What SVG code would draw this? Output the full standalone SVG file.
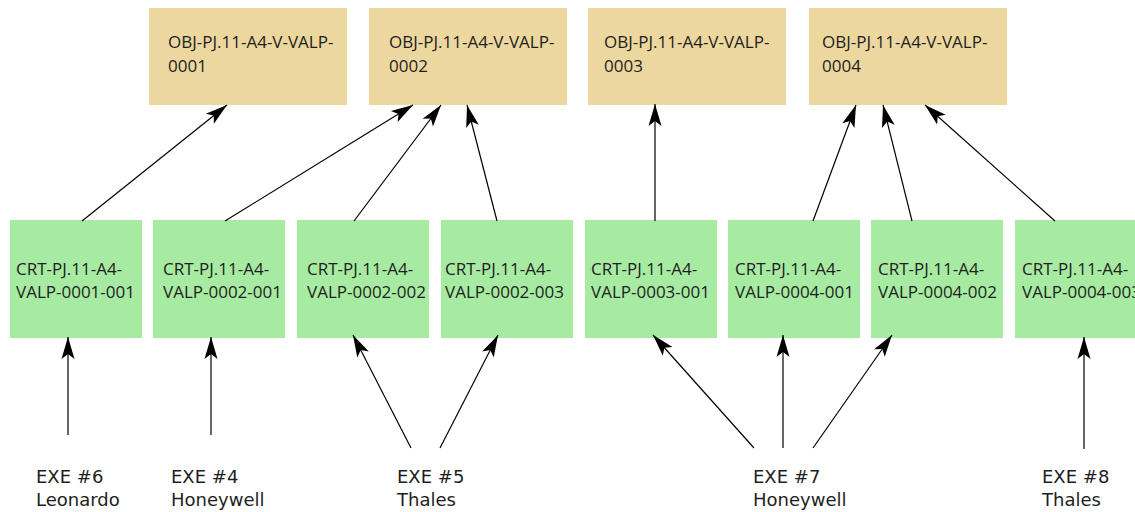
<svg xmlns="http://www.w3.org/2000/svg" width="1135" height="512" viewBox="0 0 1135 512">
<style>
.obj{fill:#ECD89F}
.crt{fill:#A7EBA2}
.bt{font-family:"Open Sans","Noto Sans",sans-serif;font-size:17px;fill:#1e1e1e}
.lb{font-family:"DejaVu Sans",Verdana,sans-serif;font-size:18px;fill:#1e1e1e}
.c{stroke:#000;stroke-width:1.2;fill:none;marker-end:url(#ah)}
</style>
<defs>
<marker id="ah" markerUnits="userSpaceOnUse" markerWidth="26" markerHeight="16" viewBox="-24 -8 26 16" refX="0" refY="0" orient="auto">
<path d="M0,0 L-22,-6.5 L-17,0 L-22,6.5 Z" fill="#000"/>
</marker>
</defs>
<rect width="1135" height="512" fill="#fff"/>
<g id="obj1"><rect class="obj" x="149" y="8" width="198" height="97"/><text class="bt" x="168" y="48">OBJ-PJ.11-A4-V-VALP-</text><text class="bt" x="168" y="71.5">0001</text></g>
<g id="obj2"><rect class="obj" x="369" y="8" width="198" height="97"/><text class="bt" x="389" y="48">OBJ-PJ.11-A4-V-VALP-</text><text class="bt" x="389" y="71.5">0002</text></g>
<g id="obj3"><rect class="obj" x="588" y="8" width="198" height="97"/><text class="bt" x="604" y="48">OBJ-PJ.11-A4-V-VALP-</text><text class="bt" x="604" y="71.5">0003</text></g>
<g id="obj4"><rect class="obj" x="809" y="8" width="198" height="97"/><text class="bt" x="822" y="48">OBJ-PJ.11-A4-V-VALP-</text><text class="bt" x="822" y="71.5">0004</text></g>

<g id="crt1"><rect class="crt" x="10" y="220" width="132" height="118"/><text class="bt" x="16" y="275">CRT-PJ.11-A4-</text><text class="bt" x="16" y="298">VALP-0001-001</text></g>
<g id="crt2"><rect class="crt" x="153" y="220" width="132" height="118"/><text class="bt" x="163" y="275">CRT-PJ.11-A4-</text><text class="bt" x="163" y="298">VALP-0002-001</text></g>
<g id="crt3"><rect class="crt" x="297" y="220" width="132" height="118"/><text class="bt" x="307" y="275">CRT-PJ.11-A4-</text><text class="bt" x="307" y="298">VALP-0002-002</text></g>
<g id="crt4"><rect class="crt" x="441" y="220" width="132" height="118"/><text class="bt" x="445" y="275">CRT-PJ.11-A4-</text><text class="bt" x="445" y="298">VALP-0002-003</text></g>
<g id="crt5"><rect class="crt" x="585" y="220" width="132" height="118"/><text class="bt" x="591" y="275">CRT-PJ.11-A4-</text><text class="bt" x="591" y="298">VALP-0003-001</text></g>
<g id="crt6"><rect class="crt" x="728" y="220" width="132" height="118"/><text class="bt" x="735" y="275">CRT-PJ.11-A4-</text><text class="bt" x="735" y="298">VALP-0004-001</text></g>
<g id="crt7"><rect class="crt" x="871" y="220" width="132" height="118"/><text class="bt" x="878" y="275">CRT-PJ.11-A4-</text><text class="bt" x="878" y="298">VALP-0004-002</text></g>
<g id="crt8"><rect class="crt" x="1015" y="220" width="132" height="118"/><text class="bt" x="1022" y="275">CRT-PJ.11-A4-</text><text class="bt" x="1022" y="298">VALP-0004-003</text></g>

<g id="exe6"><text class="lb" x="36" y="483">EXE #6</text><text class="lb" x="36" y="506">Leonardo</text></g>
<g id="exe4"><text class="lb" x="171" y="483">EXE #4</text><text class="lb" x="171" y="506">Honeywell</text></g>
<g id="exe5"><text class="lb" x="397" y="483">EXE #5</text><text class="lb" x="397" y="506">Thales</text></g>
<g id="exe7"><text class="lb" x="753" y="483">EXE #7</text><text class="lb" x="753" y="506">Honeywell</text></g>
<g id="exe8"><text class="lb" x="1042" y="483">EXE #8</text><text class="lb" x="1042" y="506">Thales</text></g>

<g id="connectors">
<line class="c" x1="82" y1="221" x2="227" y2="105"/>
<line class="c" x1="225" y1="221" x2="413" y2="105"/>
<line class="c" x1="354" y1="221" x2="441" y2="105"/>
<line class="c" x1="497" y1="221" x2="467" y2="105"/>
<line class="c" x1="655" y1="221" x2="655" y2="104"/>
<line class="c" x1="813" y1="221" x2="856" y2="105"/>
<line class="c" x1="912" y1="221" x2="883" y2="105"/>
<line class="c" x1="1055" y1="221" x2="925" y2="105"/>

<line class="c" x1="68" y1="435" x2="68" y2="337"/>
<line class="c" x1="211" y1="435" x2="211" y2="337"/>
<line class="c" x1="411" y1="448" x2="353" y2="335"/>
<line class="c" x1="440" y1="448" x2="498" y2="335"/>
<line class="c" x1="754" y1="448" x2="653" y2="335"/>
<line class="c" x1="783" y1="448" x2="783" y2="335"/>
<line class="c" x1="813" y1="448" x2="892" y2="335"/>
<line class="c" x1="1084" y1="449" x2="1084" y2="337"/>
</g>
</svg>
